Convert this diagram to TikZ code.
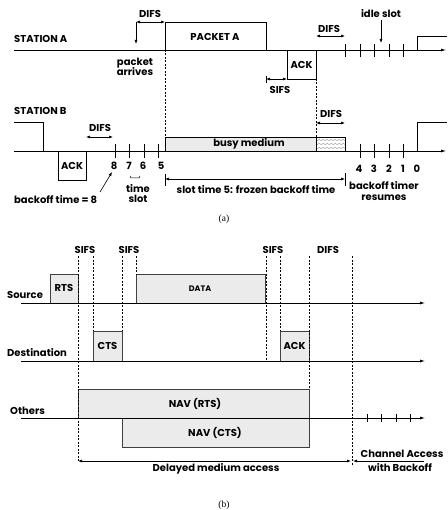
\documentclass[tikz,border=0pt]{standalone}
\usepackage{fontspec}
\setmainfont{Liberation Serif}
\newfontfamily\labfont{Poppins}
\usetikzlibrary{arrows.meta,decorations.pathmorphing}
\begin{document}
\begin{tikzpicture}[x=1pt,y=-1pt,
  lab/.style={font=\labfont\bfseries\fontsize{10}{11}\selectfont, inner sep=0pt},
  captext/.style={font=\fontsize{9.5}{10}\selectfont, inner sep=0pt},
  ln/.style={line width=0.7pt},
  tk/.style={line width=0.6pt},
  dv/.style={dashed, dash pattern=on 2pt off 1.5pt, line width=0.6pt},
  tip/.style={-{Latex[length=4pt,width=3pt]}},
  dim/.style={{Latex[length=4pt,width=3pt]}-{Latex[length=4pt,width=3pt]}, line width=0.6pt},
  axis/.style={line width=0.7pt, -{Latex[length=5pt,width=3pt]}},
  gbox/.style={draw=black!75, fill=black!8, line width=0.7pt},
  wbox/.style={draw=black, fill=white, line width=0.7pt}]
\useasboundingbox (0,0) rectangle (447,510);

% ================= (a) =================
% Station A
\node[lab, anchor=west] (stA) at (14,39) {STATION A};
\draw[axis] (14,50) -- (446,50);
\draw[wbox] (287,50) rectangle (316,79);
\node[lab] (ackA) at (301.5,65) {ACK};
\draw[ln] (165,50) -- (165,22) -- (266,22) -- (266,50);
\node[lab] (pktA) at (215,37) {PACKET A};
\draw[ln] (417,50) -- (417,36) -- (447,36);
\foreach \x in {345,360,374,389,403} \draw[tk] (\x,44) -- (\x,57);
% arrows and labels top A
\draw[line width=0.6pt, tip] (136,22) -- (136,44);
\draw[dim] (136,22) -- (165,22);
\node[lab] (difsA1) at (150,14) {DIFS};
\node[lab, align=center] (parr) at (135,67) {packet\\[-1pt]arrives};
\draw[line width=0.6pt] (266,76) -- (266,83);
\draw[dim] (266,79) -- (287,79);
\node[lab] (sifsA) at (280,90) {SIFS};
\draw[dim] (316,36) -- (345,36);
\node[lab] (difsA2) at (329,29) {DIFS};
\node[lab] (idle) at (381,14) {idle slot};
\draw[line width=0.6pt, tip] (381,20) -- (381,43);

% Station B
\node[lab, anchor=west] (stB) at (14,111) {STATION B};
\draw[axis] (14,151) -- (446,151);
\draw[ln] (14,122) -- (43,122) -- (43,151);
\draw[wbox] (58,151) rectangle (86,180);
\node[lab] (ackB) at (72,166) {ACK};
\draw[dim] (86,137) -- (113,137);
\node[lab] (difsB1) at (100,128) {DIFS};
\foreach \x in {115,129,144,158,360,374,389,403} \draw[tk] (\x,144) -- (\x,158);
\foreach \x/\t in {114/8,129/7,143/6,161/5} \node[lab] at (\x,166) {\t};
\foreach \x/\t in {359/4,374/3,389/2,403/1,417/0} \node[lab] at (\x,169) {\t};
\draw[gbox, draw=black] (165,137) rectangle (316,151);
\node[lab] (busy) at (249,144) {busy medium};
\begin{scope}
  \clip (316,137) rectangle (345,151);
  \foreach \y in {140,144,148}
    \draw[black!40, line width=0.4pt, decorate, decoration={snake, amplitude=0.8pt, segment length=4pt}] (314,\y) -- (348,\y);
\end{scope}
\draw[ln] (316,137) rectangle (345,151);
\draw[dim] (316,123) -- (345,123);
\node[lab] (difsB2) at (331,114) {DIFS};
\draw[ln] (417,151) -- (417,122) -- (447,122);
% dashed verticals
\draw[dv] (165,50) -- (165,137);
\draw[dv] (316,79) -- (316,137);
% time slot
\draw[line width=0.5pt] (130,176) -- (131,178) -- (139,178) -- (140,176);
\node[lab, align=center] (tslot) at (138,194) {time\\[-1pt]slot};
% backoff time = 8
\node[lab, anchor=west] (bt8) at (14,200) {backoff time = 8};
\draw[line width=0.6pt, tip] (100,192) -- (112,172);
% slot time 5
\draw[line width=0.6pt] (165,174) -- (165,186);
\draw[line width=0.6pt] (345,173) -- (345,186);
\draw[dim] (165,179) -- (345,179);
\node[lab] (frozen) at (256,190) {slot time 5: frozen backoff time};
\node[lab, align=center] (resume) at (384,191.5) {backoff timer\\[0pt]resumes};
\node[captext] (capa) at (224,219) {(a)};

% ================= (b) =================
\node[lab] at (85,250) {SIFS};
\node[lab] at (129,250) {SIFS};
\node[lab] at (273,250) {SIFS};
\node[lab] at (328,250) {DIFS};
% Source
\node[lab, anchor=west] (src) at (7,295) {Source};
\draw[axis] (21,303) -- (425,303);
\draw[gbox] (50,303) -- (50,274) -- (78,274) -- (78,303);
\node[lab] (rts) at (64,288) {RTS};
\draw[gbox] (136,303) -- (136,274) -- (265,274) -- (265,303);
\node[lab, font=\labfont\bfseries\fontsize{8}{9}\selectfont] (data) at (200,289) {DATA};
% Destination
\node[lab, anchor=west] (dst) at (7,353) {Destination};
\draw[axis] (21,361) -- (425,361);
\draw[gbox] (93,361) -- (93,331) -- (122,331) -- (122,361);
\node[lab] (cts) at (107.5,346) {CTS};
\draw[gbox] (280,361) -- (280,331) -- (309,331) -- (309,361);
\node[lab] (ackb) at (294.5,346) {ACK};
% Others
\node[lab, anchor=west] (oth) at (10,411) {Others};
\draw[gbox] (78,418) -- (78,389) -- (309,389) -- (309,418);
\node[lab] (navr) at (195,404) {NAV (RTS)};
\draw[gbox] (122,418) -- (122,447) -- (309,447) -- (309,418);
\node[lab] (navc) at (215,433) {NAV (CTS)};
\draw[axis] (21,418) -- (425,418);
\foreach \x in {367,381,396,410} \draw[tk] (\x,414) -- (\x,422);
% dashed verticals
\draw[dv] (78,256) -- (78,461);
\draw[dv] (93,256) -- (93,331);
\draw[dv] (122,256) -- (122,331);
\draw[dv] (136,256) -- (136,274);
\draw[dv] (266,256) -- (266,361);
\draw[dv] (280,256) -- (280,331);
\draw[dv] (309,256) -- (309,389);
\draw[dv] (352,256) -- (352,466);
% delayed access
\draw[dim] (78,461) -- (351,461);
\node[lab] (delay) at (216,469) {Delayed medium access};
\draw[line width=0.6pt, {Latex[length=4pt,width=3pt]}-] (353,461) -- (424,461);
\node[lab, anchor=west, fill=white, inner sep=0.5pt] (chan) at (360,454) {Channel Access};
\node[lab] (backoff) at (400,468) {with Backoff};
\node[captext] (capb) at (224,505) {(b)};
\end{tikzpicture}
\end{document}
